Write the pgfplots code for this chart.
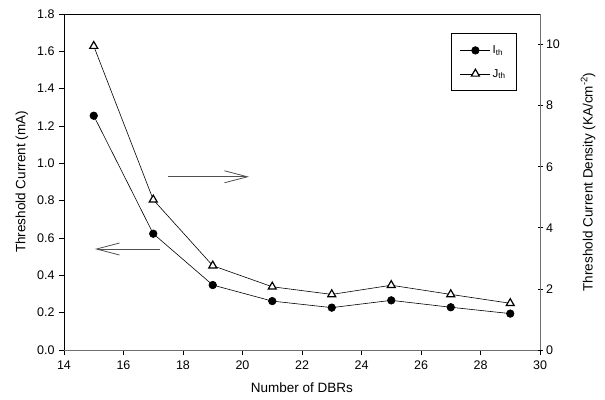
\documentclass[border=0pt]{standalone}
\usepackage{fontspec}
\setmainfont{Liberation Sans}
\usepackage{pgfplots}
\pgfplotsset{compat=1.18}
\usetikzlibrary{arrows.meta}
\definecolor{axgray}{RGB}{110,110,110}
\definecolor{arrgray}{RGB}{80,80,80}
\begin{document}
\begin{tikzpicture}
\path[use as bounding box] (-64pt,-49pt) rectangle (541pt,350pt);
\pgfplotsset{
  every axis/.append style={
    at={(0pt,0pt)}, anchor=south west,
    width=476pt, height=336pt, scale only axis,
    xmin=14, xmax=30,
    tick align=outside,
    major tick length=5pt,
    tick style={black, line width=0.8pt},
    ticklabel style={font=\fontsize{12.5}{14}\selectfont},
    label style={font=\fontsize{13.5}{16}\selectfont},
    /pgf/number format/assume math mode=true,
  },
}
\begin{axis}[
  ymin=0, ymax=1.8,
  xtick={14,16,18,20,22,24,26,28,30},
  ytick={0,0.2,0.4,0.6,0.8,1.0,1.2,1.4,1.6,1.8},
  yticklabel style={xshift=-1pt},
  y tick label style={/pgf/number format/fixed, /pgf/number format/fixed zerofill, /pgf/number format/precision=1},
  xticklabel style={yshift=-2pt},
  xtick pos=bottom, ytick pos=left,
  axis line style={line width=0.9pt},
  xlabel={Number of DBRs},
  ylabel={Threshold Current (mA)},
  xlabel style={yshift=-6pt},
  ylabel style={yshift=2pt},
]
\addplot[black, line width=0.6pt, mark=*, mark size=3.8pt, mark options={fill=black}]
 coordinates {(15,1.255) (17,0.623) (19,0.348) (21,0.262) (23,0.227) (25,0.266) (27,0.229) (29,0.195)};
\draw[axgray, line width=1pt] (rel axis cs:0,0) -- (rel axis cs:1,0);
\draw[arrgray, line width=0.8pt, -{Straight Barb[length=23pt,width=12pt]}] (axis cs:17.23,0.541) -- (axis cs:15.04,0.541);
\draw[arrgray, line width=0.8pt, -{Straight Barb[length=23pt,width=12pt]}] (axis cs:17.49,0.928) -- (axis cs:20.22,0.928);
\end{axis}
\begin{axis}[
  ymin=0, ymax=11,
  axis x line=none,
  axis y line=right,
  y axis line style={-, axgray, line width=1pt},
  ytick={0,2,4,6,8,10},
  ylabel={Threshold Current Density (KA/cm\textsuperscript{-2})},
  ylabel style={font=\fontsize{13.5}{16}\selectfont, yshift=-14pt},
  legend style={at={(rel axis cs:0.8124,0.9426)}, anchor=north west,
    draw=black, line width=0.8pt, font=\fontsize{11.5}{13}\selectfont,
    inner xsep=9pt, inner ysep=10pt, row sep=10pt, cells={anchor=west}},
  legend image code/.code={\draw[mark repeat=2,mark phase=2,#1] plot coordinates {(0pt,0pt) (15pt,0pt) (30pt,0pt)};},
]
\addlegendimage{black, line width=0.6pt, mark=*, mark size=3.8pt, mark options={fill=black}}
\addlegendentry{I\textsubscript{th}\hspace{5pt}}
\addplot[black, line width=0.6pt, mark=triangle*, mark size=4.6pt, mark options={fill=white, line width=1.2pt}]
 coordinates {(15,9.95) (17,4.92) (19,2.76) (21,2.07) (23,1.82) (25,2.12) (27,1.82) (29,1.53)};
\addlegendentry{J\textsubscript{th}\hspace{5pt}}
\end{axis}
\end{tikzpicture}
\end{document}
